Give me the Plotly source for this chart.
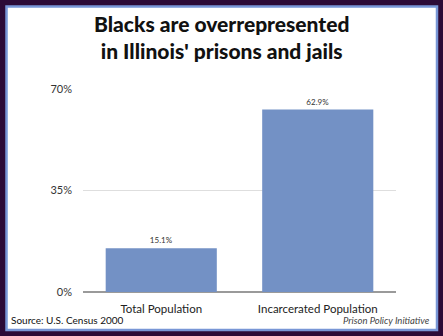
import plotly.graph_objects as go

# Share of Illinois population that is Black, by group (percent)
categories = ["Total Population", "Incarcerated Population"]
values = [15.1, 62.9]
tick_values = [0, 35, 70]
tick_labels = ["0%", "35%", "70%"]

W, H = 443, 336
L, R, T, B = 83, 47, 89, 44
PW, PH = W - L - R, H - T - B


def px(x):
    return (x - L) / PW


def py(y):
    return (H - B - y) / PH


fig = go.Figure(
    go.Bar(
        x=categories,
        y=values,
        marker=dict(color="#7391c5", line=dict(width=0)),
        text=[f"{v:.1f}%" for v in values],
        textposition="outside",
        textfont=dict(family="Lato, sans-serif", size=8, color="#333333"),
        cliponaxis=False,
        width=0.71,
    )
)

fig.update_layout(
    width=W,
    height=H,
    margin=dict(l=L, r=R, t=T, b=B, pad=0),
    paper_bgcolor="#2c0a36",
    plot_bgcolor="rgba(0,0,0,0)",
    showlegend=False,
    font=dict(family="Lato, sans-serif", color="#222222"),
    xaxis=dict(
        showgrid=False,
        showline=False,
        zeroline=False,
        ticks="",
        tickfont=dict(family="Lato, sans-serif", size=11.5, color="#222222"),
        ticklabelstandoff=8,
    ),
    yaxis=dict(
        range=[0, 70],
        tickvals=tick_values,
        ticktext=tick_labels,
        showgrid=True,
        gridcolor="#dedede",
        gridwidth=1,
        zeroline=True,
        zerolinecolor="#9a9a9a",
        zerolinewidth=1.5,
        showline=False,
        ticks="",
        ticklabelstandoff=10,
        tickfont=dict(family="Lato, sans-serif", size=11, color="#333333"),
    ),
    shapes=[
        dict(
            type="rect",
            xref="paper",
            yref="paper",
            x0=px(6.5),
            x1=px(437),
            y0=py(330),
            y1=py(6.5),
            fillcolor="white",
            line=dict(color="#7896d6", width=2.5),
            layer="below",
        )
    ],
    annotations=[
        dict(
            text="Blacks are overrepresented<br>in Illinois' prisons and jails",
            xref="paper",
            yref="paper",
            x=px(221.5),
            y=py(37.5),
            xanchor="center",
            yanchor="middle",
            showarrow=False,
            font=dict(family="Lato, sans-serif", size=21, weight=900, color="#111111"),
        ),
        dict(
            text="Source: U.S. Census 2000",
            xref="paper",
            yref="paper",
            x=px(9),
            y=py(320),
            xanchor="left",
            yanchor="middle",
            showarrow=False,
            font=dict(family="Lato, sans-serif", size=10, color="#111111"),
        ),
        dict(
            text="<i>Prison Policy Initiative</i>",
            xref="paper",
            yref="paper",
            x=px(432),
            y=py(320),
            xanchor="right",
            yanchor="middle",
            showarrow=False,
            font=dict(family="Lato, sans-serif", size=9.5, color="#444444"),
        ),
    ],
)

fig.write_html("out.html")
